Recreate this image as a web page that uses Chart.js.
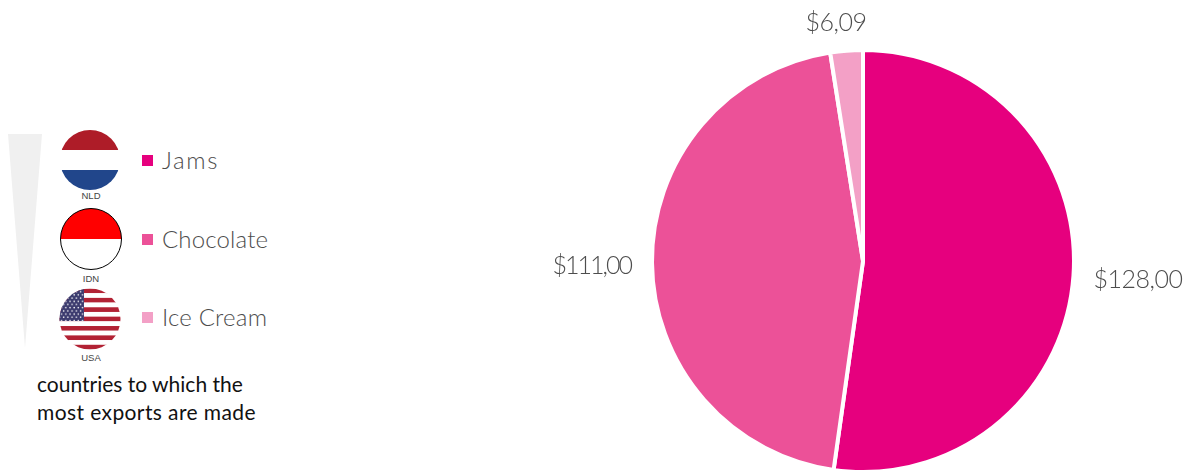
<!DOCTYPE html>
<html>
<head>
<meta charset="utf-8">
<script src="https://cdn.jsdelivr.net/npm/chart.js@4/dist/chart.umd.js"></script>
<style>
html,body{margin:0;padding:0;background:#fff;width:1192px;height:470px;overflow:hidden;font-family:"Lato",sans-serif}
#wrap{position:absolute;left:463px;top:-39px;width:800px;height:600px}
.abs{position:absolute}
.wedge{left:8px;top:134px;width:34px;height:214px;background:#f0f0f0;clip-path:polygon(0 0,100% 0,50% 100%)}
.code{width:60px;left:61px;text-align:center;font:9.5px "Liberation Sans",sans-serif;color:#444;line-height:10px}
.sq{left:142px;width:11px;height:11px}
.lg{left:162px;font-size:24px;font-weight:300;color:#4d4d4d;line-height:28px;white-space:nowrap}
.note{left:37px;top:370px;font-size:21px;color:#111;line-height:28px;font-weight:400;white-space:nowrap;letter-spacing:.4px}
.note span{letter-spacing:0}
svg{position:absolute;left:59px}
</style>
</head>
<body>
<div class="abs wedge"></div>

<svg style="top:129px;left:58px" width="64" height="62" viewBox="-32 -31 64 62">
  <defs><clipPath id="c1"><circle r="30"/></clipPath></defs>
  <g clip-path="url(#c1)">
    <rect x="-32" y="-31" width="64" height="21" fill="#ae1c28"/>
    <rect x="-32" y="-10" width="64" height="20" fill="#fff"/>
    <rect x="-32" y="10" width="64" height="21" fill="#21468b"/>
  </g>
</svg>
<svg style="top:208px" width="64" height="62" viewBox="-32 -31 64 62">
  <defs><clipPath id="c2"><circle r="30.5"/></clipPath></defs>
  <g clip-path="url(#c2)">
    <rect x="-32" y="-31" width="64" height="31" fill="#ff0000"/>
    <rect x="-32" y="0" width="64" height="31" fill="#fff"/>
  </g>
  <circle r="30.5" fill="none" stroke="#000" stroke-width="1"/>
</svg>
<svg style="top:288px;left:58px" width="64" height="62" viewBox="-32 -31 64 62">
  <defs>
    <clipPath id="c3"><circle r="30.5"/></clipPath>
    <pattern id="st" width="4.2" height="6.4" patternUnits="userSpaceOnUse">
      <circle cx="1" cy="1.4" r=".8" fill="#fff"/><circle cx="3.1" cy="4.6" r=".8" fill="#fff"/>
    </pattern>
  </defs>
  <g clip-path="url(#c3)" id="usa"></g>
</svg>

<div class="abs code" style="top:191px">NLD</div>
<div class="abs code" style="top:274px">IDN</div>
<div class="abs code" style="top:353px">USA</div>

<div id="legend"></div>
<div class="abs note"><span>countries to which the</span><br>most exports are made</div>

<div id="wrap"><canvas id="c" width="800" height="600"></canvas></div>

<script>
const categories = ["Jams", "Chocolate", "Ice Cream"];
const values = [128.00, 111.00, 6.09];
const valueLabels = ["$128,00", "$111,00", "$6,09"];
const colors = ["#e6007e", "#ec5198", "#f3a0c6"];
const legendTops = [155, 234, 312];

// USA flag stripes
(function(){
  const g = document.getElementById('usa'), NS = 'http://www.w3.org/2000/svg';
  for (let i = 0; i < 13; i++) {
    const r = document.createElementNS(NS, 'rect');
    r.setAttribute('x', -32); r.setAttribute('y', -30.5 + i * 4.69);
    r.setAttribute('width', 64); r.setAttribute('height', 4.75);
    r.setAttribute('fill', i % 2 ? '#fff' : '#b22234');
    g.appendChild(r);
  }
  const c = document.createElementNS(NS, 'rect');
  c.setAttribute('x', -32); c.setAttribute('y', -31); c.setAttribute('width', 26); c.setAttribute('height', 33);
  c.setAttribute('fill', '#3c3b6e'); g.appendChild(c);
  const s = document.createElementNS(NS, 'rect');
  s.setAttribute('x', -32); s.setAttribute('y', -31); s.setAttribute('width', 26); s.setAttribute('height', 33);
  s.setAttribute('fill', 'url(#st)'); g.appendChild(s);
})();

// Legend
const lg = document.getElementById('legend');
categories.forEach((name, i) => {
  const sq = document.createElement('div');
  sq.className = 'abs sq'; sq.style.top = legendTops[i] + 'px'; sq.style.background = colors[i];
  lg.appendChild(sq);
  const t = document.createElement('div');
  t.className = 'abs lg'; t.style.top = (legendTops[i] - 9) + 'px'; t.textContent = name;
  if (i === 0) t.style.letterSpacing = '1.6px';
  if (i === 1) t.style.letterSpacing = '.15px';
  if (i === 2) t.style.letterSpacing = '.2px';
  lg.appendChild(t);
});

// Outside value labels anchored on each arc's mid-angle
const outLabels = {
  id: 'outLabels',
  afterDatasetsDraw(chart) {
    const { ctx } = chart, meta = chart.getDatasetMeta(0);
    ctx.save();
    ctx.font = '300 25px Lato, sans-serif';
    ctx.fillStyle = '#4d4d4d';
    ctx.textBaseline = 'middle';
    meta.data.forEach((arc, i) => {
      const mid = (arc.startAngle + arc.endAngle) / 2;
      const r = arc.outerRadius + 20;
      const x = arc.x + Math.cos(mid) * r, y = arc.y + Math.sin(mid) * r;
      const c = Math.cos(mid), s = Math.sin(mid);
      ctx.letterSpacing = i === 1 ? '-2px' : '-0.5px';
      if (Math.abs(c) > Math.abs(s)) {
        ctx.textAlign = c > 0 ? 'left' : 'right';
        ctx.fillText(valueLabels[i], c > 0 ? x : x - 1, y + 3);
      } else {
        ctx.textAlign = 'center';
        ctx.fillText(valueLabels[i], x - 9, y - 8);
      }
    });
    ctx.restore();
  }
};

new Chart(document.getElementById('c'), {
  type: 'pie',
  data: {
    labels: categories,
    datasets: [{ data: values, backgroundColor: colors, borderColor: '#fff', borderWidth: 4, hoverOffset: 0 }]
  },
  options: {
    responsive: false,
    animation: false,
    radius: 211,
    plugins: { legend: { display: false }, tooltip: { enabled: false } }
  },
  plugins: [outLabels]
});
</script>
</body>
</html>
